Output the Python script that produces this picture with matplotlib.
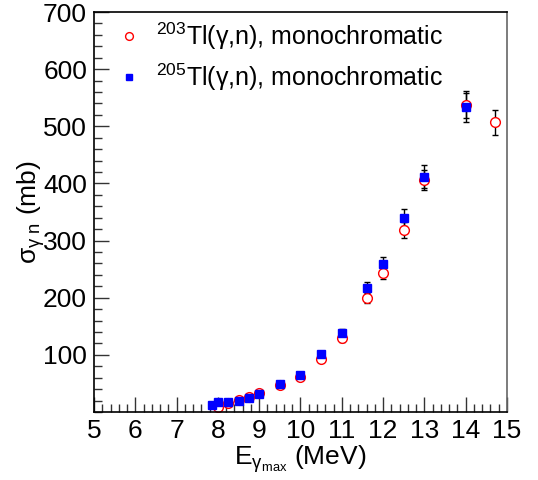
import matplotlib.pyplot as plt
from matplotlib.ticker import MultipleLocator

plt.rcParams['font.family'] = ['Liberation Sans', 'DejaVu Sans']
plt.rcParams['mathtext.fontset'] = 'custom'
plt.rcParams['mathtext.rm'] = 'Liberation Sans'
plt.rcParams['mathtext.it'] = 'Liberation Sans'
plt.rcParams['mathtext.sf'] = 'Liberation Sans'

# Données
e_203 = [8.0, 8.25, 8.5, 8.75, 9.0, 9.5, 10.0, 10.5, 11.0, 11.6, 12.0, 12.5, 13.0, 14.0, 14.7]
s_203 = [9, 16, 21, 27, 34, 47, 61, 93, 129, 199, 243, 318, 406, 538, 507]
err_203 = [2, 2, 2, 2, 2, 3, 4, 5, 6, 9, 11, 14, 17, 24, 22]

e_205 = [7.85, 8.0, 8.25, 8.5, 8.75, 9.0, 9.5, 10.0, 10.5, 11.0, 11.6, 12.0, 12.5, 13.0, 14.0]
s_205 = [12, 17, 18, 19, 25, 31, 49, 64, 102, 138, 217, 259, 340, 412, 533]
err_205 = [2, 2, 2, 2, 2, 2, 3, 4, 5, 7, 10, 12, 15, 20, 25]

fig = plt.figure(figsize=(5.38, 4.80), dpi=100)
ax = fig.add_axes([0.1747, 0.1417, 0.7677, 0.8333])

ax.errorbar(e_203, s_203, yerr=err_203, fmt='none', ecolor='black', elinewidth=1,
            capsize=2, capthick=1, zorder=1)
ax.errorbar(e_205, s_205, yerr=err_205, fmt='none', ecolor='black', elinewidth=1,
            capsize=2, capthick=1, zorder=1)
ax.plot(e_203, s_203, 'o', mfc='white', mec='red', mew=1, ms=7, zorder=2,
        label=r'$^{203}$Tl(γ,n), monochromatic')
ax.plot(e_205, s_205, 's', color='blue', mec='blue', ms=6, zorder=3,
        label=r'$^{205}$Tl(γ,n), monochromatic')

ax.set_xlim(5, 15)
ax.set_ylim(0, 700)
ax.xaxis.set_major_locator(MultipleLocator(1))
ax.xaxis.set_minor_locator(MultipleLocator(0.2))
ax.yaxis.set_major_locator(MultipleLocator(100))
ax.yaxis.set_minor_locator(MultipleLocator(20))
ax.set_yticks([100, 200, 300, 400, 500, 600, 700])
ax.tick_params(which='both', direction='in', top=False, right=False,
               labelsize=19, color='#333333')
ax.tick_params(which='major', length=11, width=1, pad=5)
ax.tick_params(which='minor', length=6, width=1)
for s in ax.spines.values():
    s.set_linewidth(1.2)
ax.spines['right'].set_color('#666666')

ax.set_xlabel(r'E$_{\mathrm{\gamma}_{\mathrm{max}}}$ (MeV)', fontsize=19, labelpad=0)
ax.set_ylabel(r'$\mathrm{\sigma}_{\mathrm{\gamma\ n}}$ (mb)', fontsize=19, labelpad=-3)

ax.legend(loc='upper left', bbox_to_anchor=(0.025, 1.01), frameon=False, fontsize=18,
          handlelength=1.0, handletextpad=0.55, labelspacing=0.38, borderaxespad=0.1,
          numpoints=1, markerscale=0.8)

fig.savefig('out.png', dpi=100)
